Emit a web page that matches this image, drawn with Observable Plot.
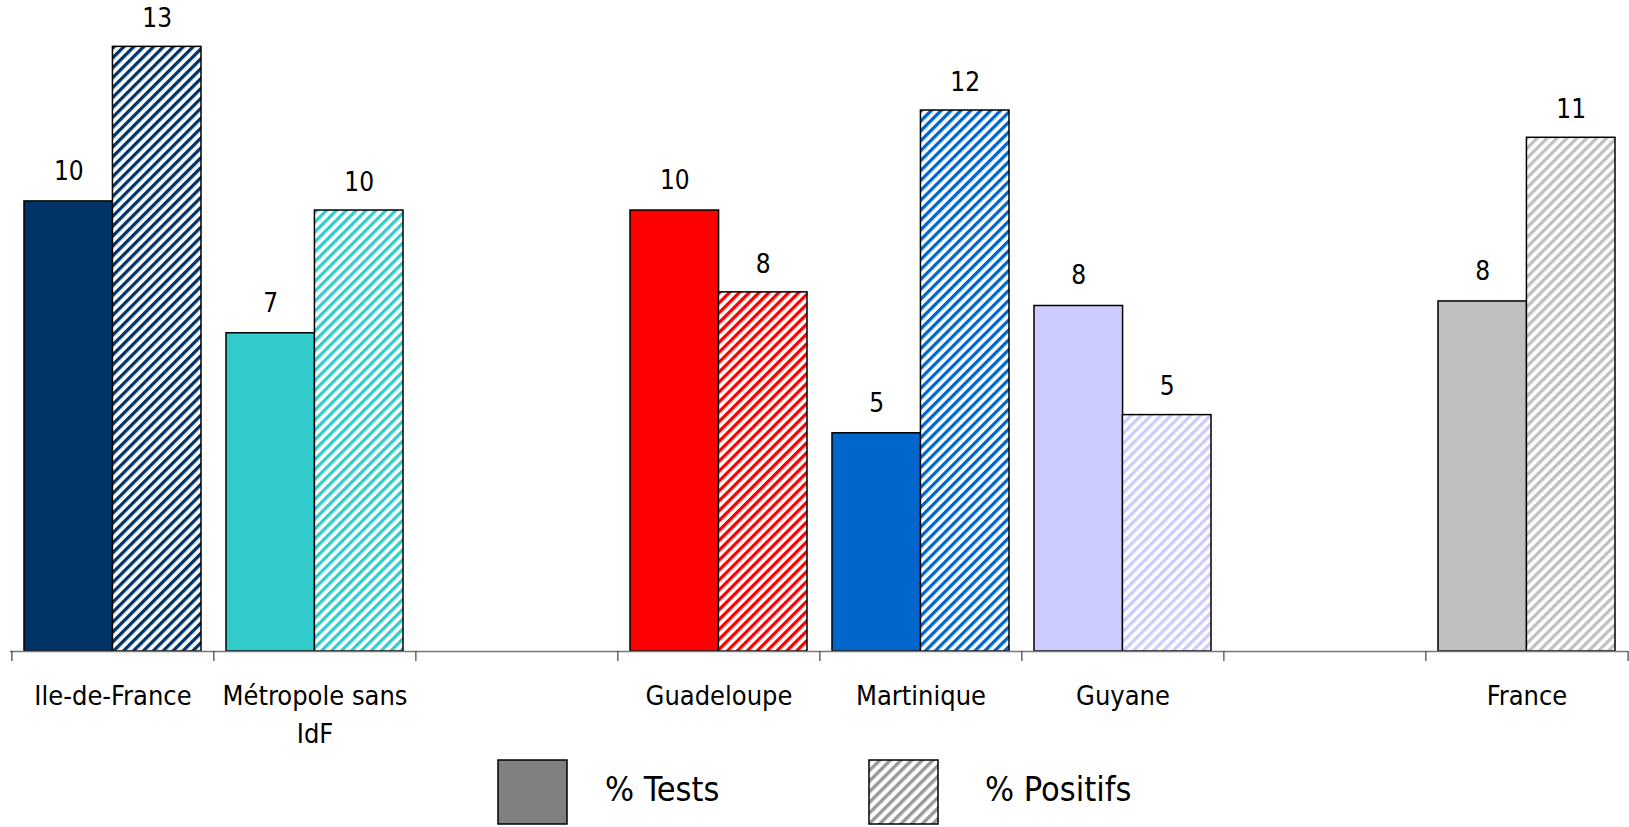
<!DOCTYPE html>
<html>
<head>
<meta charset="utf-8">
<script src="https://cdn.jsdelivr.net/npm/d3@7"></script>
<script src="https://cdn.jsdelivr.net/npm/@observablehq/plot@0.6"></script>
<style>
  html, body { margin: 0; padding: 0; background: #fff; }
  #wrap { width: 1629px; position: relative; font-family: "DejaVu Sans Condensed", "Liberation Sans Narrow", "Liberation Sans", sans-serif; }
  #chart svg { display: block; }
  #legend { position: relative; height: 77px; width: 1629px; }
  .lg-sw { position: absolute; top: 9px; width: 71px; height: 66px; }
  .lg-tx { position: absolute; top: 19px; font-size: 34px; line-height: 40px; color: #000; }
</style>
</head>
<body>
<div id="wrap">
  <div id="chart"></div>
  <div id="legend">
    <svg class="lg-sw" style="left:497px" width="71" height="66"><rect x="1" y="1" width="69" height="64" fill="#808080" stroke="#000" stroke-width="1.5"/></svg>
    <div class="lg-tx" style="left:605px">% Tests</div>
    <svg class="lg-sw" style="left:868px" width="71" height="66">
      <defs><pattern id="lg-hatch" patternUnits="userSpaceOnUse" width="7.5" height="7.5" patternTransform="rotate(45)"><rect width="7.5" height="7.5" fill="#fff"/><rect width="3.4" height="7.5" fill="#999"/></pattern></defs>
      <rect x="1" y="1" width="69" height="64" fill="url(#lg-hatch)" stroke="#000" stroke-width="1.5"/></svg>
    <div class="lg-tx" style="left:985px">% Positifs</div>
  </div>
</div>
<script>
// ---- data ----
const categories = ["Ile-de-France", "Métropole sans\nIdF", "", "Guadeloupe", "Martinique", "Guyane", " ", "France"];
const testsValues = [9.9, 7.0, null, 9.7, 4.8, 7.6, null, 7.7];
const positifsValues = [13.3, 9.7, null, 7.9, 11.9, 5.2, null, 11.3];
const categoryColors = ["#003366", "#33CCCC", null, "#FF0000", "#0066CC", "#CCCCFF", null, "#C0C0C0"];
const seriesNames = ["% Tests", "% Positifs"];

// ---- build table ----
const rows = [];
categories.forEach((c, i) => {
  if (testsValues[i] != null) rows.push({category: c, series: seriesNames[0], value: testsValues[i], fill: categoryColors[i]});
  if (positifsValues[i] != null) rows.push({category: c, series: seriesNames[1], value: positifsValues[i], fill: `url(#hatch-${i})`});
});
const tests = rows.filter(d => d.series === seriesNames[0]);
const positifs = rows.filter(d => d.series === seriesNames[1]);

// ---- layout ----
const W = 1629, H = 750, mL = 10, mR = 1, mT = 10, mB = 99;
const pInner = 0.1256;
const step = (W - mL - mR) / categories.length;
const bw = step * (1 - pInner);
const font = '"DejaVu Sans Condensed", "Liberation Sans Narrow", "Liberation Sans", sans-serif';

const plot = Plot.plot({
  width: W, height: H,
  marginLeft: mL, marginRight: mR, marginTop: mT, marginBottom: mB,
  style: {fontFamily: font, background: "#fff"},
  x: {type: "band", domain: categories, paddingInner: pInner, paddingOuter: pInner / 2, axis: null},
  y: {domain: [0, 14.1], axis: null},
  color: {type: "identity"},
  marks: [
    Plot.barY(tests, {x: "category", y: "value", fill: "fill", insetRight: bw / 2, stroke: "#000", strokeWidth: 1.5}),
    Plot.barY(positifs, {x: "category", y: "value", fill: "fill", insetLeft: bw / 2, stroke: "#000", strokeWidth: 1.5}),
    Plot.text(tests, {x: "category", y: "value", text: d => d3.format(".0f")(d.value), dx: -bw / 4, dy: -30, fontSize: 26, fill: "#000"}),
    Plot.text(positifs, {x: "category", y: "value", text: d => d3.format(".0f")(d.value), dx: bw / 4, dy: -28, fontSize: 26, fill: "#000"}),
    Plot.ruleY([0], {stroke: "#777", strokeWidth: 1.5}),
    Plot.axisX({tickSize: 10, dx: -step / 2, tickFormat: () => "", label: null, stroke: "#444", strokeWidth: 1.2}),
    Plot.axisX([categories[categories.length - 1]], {tickSize: 10, dx: step / 2, tickFormat: () => "", label: null, stroke: "#444", strokeWidth: 1.2}),
    Plot.axisX({tickSize: 0, tickPadding: 27, fontSize: 27, lineHeight: 1.4, label: null, fill: "#000"})
  ]
});

const defs = categories.map((c, i) => categoryColors[i] ? `<pattern id="hatch-${i}" patternUnits="userSpaceOnUse" width="7" height="7" patternTransform="rotate(45)"><rect width="7" height="7" fill="#fff"/><rect width="3.3" height="7" fill="${categoryColors[i]}"/></pattern>` : "").join("");
d3.select(plot).insert("defs", ":first-child").html(defs);
document.getElementById("chart").appendChild(plot);
</script>
</body>
</html>
